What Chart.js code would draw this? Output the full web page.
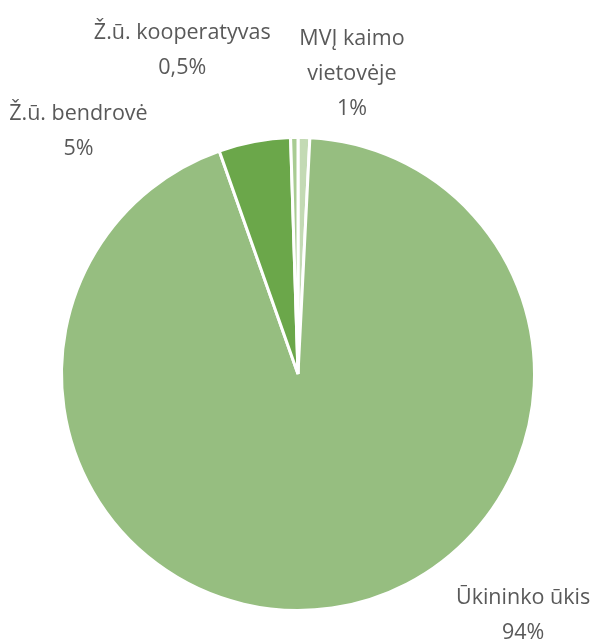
<!DOCTYPE html>
<html>
<head>
<meta charset="utf-8">
<script src="https://cdn.jsdelivr.net/npm/chart.js@4"></script>
<style>
    html, body { margin: 0; padding: 0; background: #fff; }
    #wrap { width: 608px; height: 642px; }
</style>
</head>
<body>
<div id="wrap"><canvas id="pieChart" width="608" height="642"></canvas></div>
<script>
"use strict";

// duomenys
var categories = ["MVĮ kaimo vietovėje", "Ūkininko ūkis", "Ž.ū. bendrovė", "Ž.ū. kooperatyvas"];
var shares = [0.8, 93.8, 4.9, 0.5];
var shareLabels = ["1%", "94%", "5%", "0,5%"];
var labelLines = [["MVĮ kaimo", "vietovėje"], ["Ūkininko ūkis"], ["Ž.ū. bendrovė"], ["Ž.ū. kooperatyvas"]];
var sliceColors = ["#C3DAB4", "#96BE80", "#6BA74A", "#A9CC93"];

// etikečių poslinkiai nuo lanko išorinio taško
var labelOffsets = [[48, -64], [191, 7], [-176, -10], [-112, -87]];

var pieLabels = {
    id: 'pieLabels',
    afterDatasetsDraw: function (chart) {
        var ctx = chart.ctx;
        var meta = chart.getDatasetMeta(0);
        ctx.save();
        ctx.font = '21.5px "Open Sans", "Noto Sans", sans-serif';
        ctx.fillStyle = '#595959';
        ctx.textAlign = 'center';
        ctx.textBaseline = 'middle';
        meta.data.forEach(function (arc, i) {
            var mid = (arc.startAngle + arc.endAngle) / 2;
            var x = arc.x + Math.cos(mid) * arc.outerRadius + labelOffsets[i][0];
            var y = arc.y + Math.sin(mid) * arc.outerRadius + labelOffsets[i][1];
            var lines = labelLines[i].concat([shareLabels[i]]);
            var lh = 35;
            var y0 = y - (lines.length - 1) * lh / 2;
            lines.forEach(function (t, k) {
                ctx.fillText(t, x, y0 + k * lh);
            });
        });
        ctx.restore();
    }
};

var pieChart = new Chart(document.getElementById("pieChart"), {
    type: 'pie',
    data: {
        labels: categories,
        datasets: [{
            data: shares,
            backgroundColor: sliceColors,
            borderColor: '#FFFFFF',
            borderWidth: 3
        }]
    },
    options: {
        responsive: false,
        animation: false,
        layout: {
            padding: { left: 60, right: 72, top: 136, bottom: 30 }
        },
        plugins: {
            legend: { display: false },
            tooltip: { enabled: false }
        }
    },
    plugins: [pieLabels]
});
</script>
</body>
</html>
